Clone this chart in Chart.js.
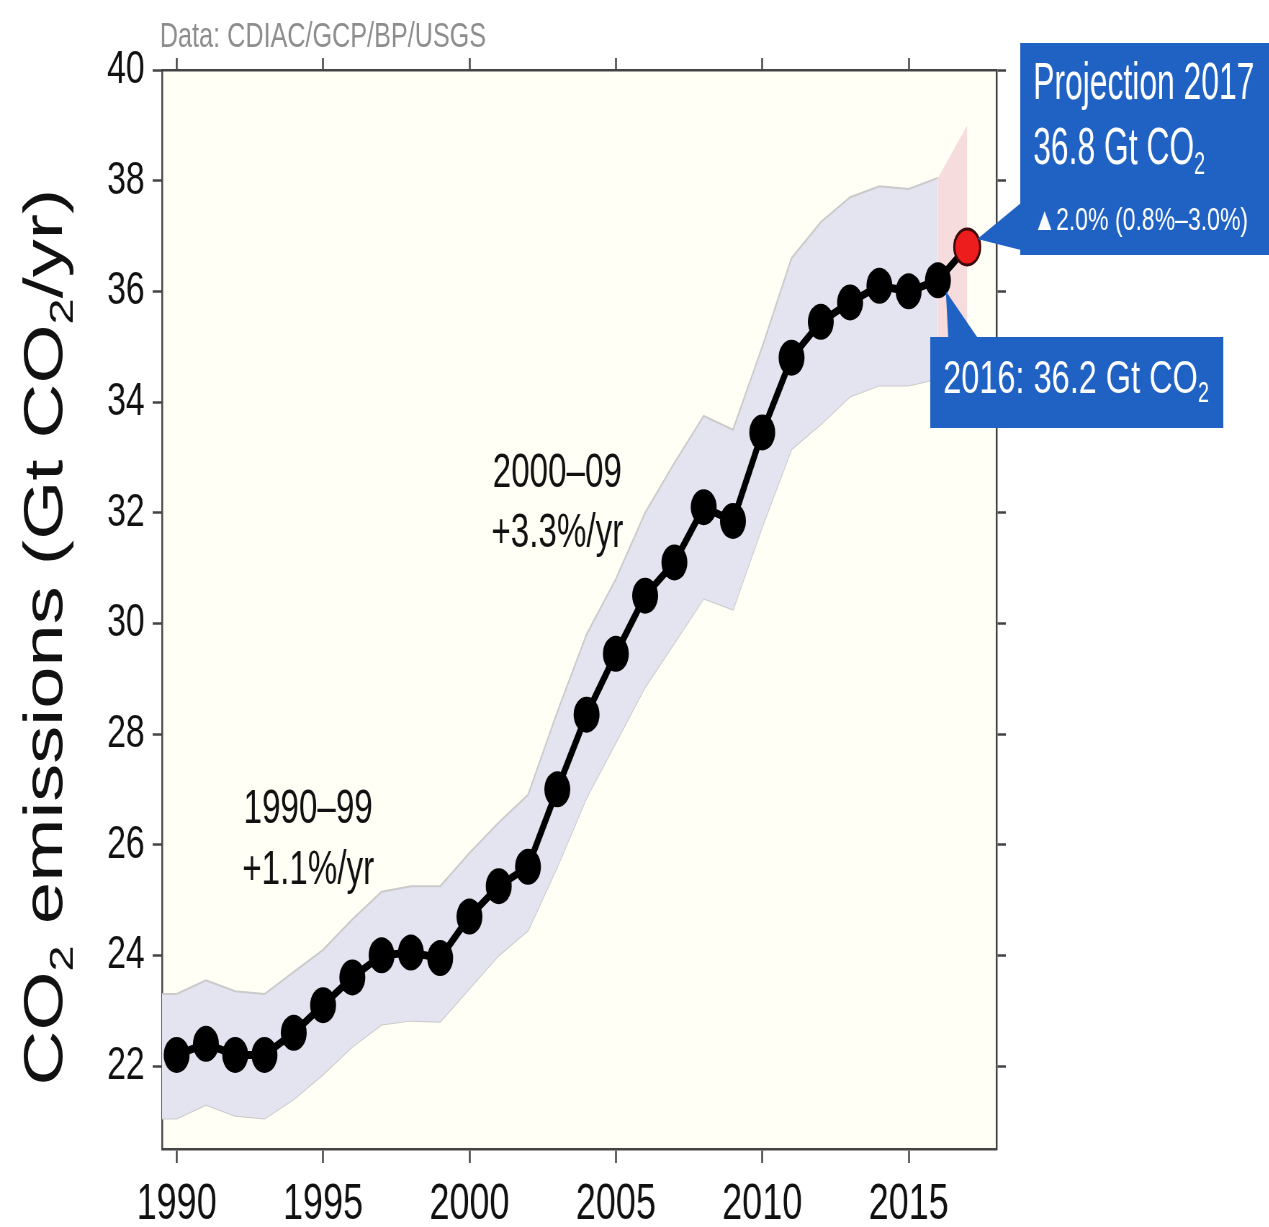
<!DOCTYPE html>
<html>
<head>
<meta charset="utf-8">
<title>CO2 emissions</title>
<script src="https://cdn.jsdelivr.net/npm/chart.js@4.4.1/dist/chart.umd.min.js"></script>
<style>
  html, body { margin: 0; padding: 0; background: #fff; overflow: hidden; }
  /* the reference is a horizontally squeezed figure, so the whole canvas is squeezed too */
  #wrap { width: 1763px; height: 1227px; transform: scaleX(0.72); transform-origin: 0 0; }
</style>
</head>
<body>
<div id="wrap"><canvas id="co2Chart" width="1763" height="1227"></canvas></div>
<script>
// fossil CO2 emissions, Gt CO2 per year (2017 = projection)
const years = [1990, 1991, 1992, 1993, 1994, 1995, 1996, 1997, 1998, 1999,
               2000, 2001, 2002, 2003, 2004, 2005, 2006, 2007, 2008, 2009,
               2010, 2011, 2012, 2013, 2014, 2015, 2016, 2017];
const emissions = [22.2, 22.4, 22.2, 22.2, 22.6, 23.1, 23.6, 24.0, 24.05, 23.95,
                   24.7, 25.25, 25.6, 27.0, 28.35, 29.45, 30.5, 31.1, 32.1, 31.85,
                   33.45, 34.8, 35.45, 35.8, 36.1, 36.0, 36.2, 36.8];

// uncertainty range of the historical data
const bandYears = [1989, 1990, 1991, 1992, 1993, 1994, 1995, 1996, 1997, 1998, 1999,
                   2000, 2001, 2002, 2003, 2004, 2005, 2006, 2007, 2008, 2009,
                   2010, 2011, 2012, 2013, 2014, 2015, 2016];
const bandUpper = [23.3, 23.3, 23.55, 23.35, 23.3, 23.7, 24.1, 24.65, 25.15, 25.25, 25.25,
                   25.85, 26.4, 26.9, 28.4, 29.8, 30.8, 32.0, 32.9, 33.75, 33.5,
                   35.0, 36.6, 37.25, 37.7, 37.9, 37.85, 38.05];
const bandLower = [21.05, 21.05, 21.3, 21.1, 21.05, 21.4, 21.85, 22.35, 22.75, 22.82, 22.8,
                   23.4, 24.0, 24.45, 25.6, 26.85, 27.85, 28.85, 29.65, 30.45, 30.25,
                   31.75, 33.15, 33.6, 34.1, 34.3, 34.3, 34.42];

// projection range 2016 -> 2017
const projYears = [2016, 2017];
const projUpper = [38.05, 39.0];
const projLower = [34.42, 34.7];

const xTicks = [1990, 1995, 2000, 2005, 2010, 2015];
const yTicks = [22, 24, 26, 28, 30, 32, 34, 36, 38, 40];

const FONT = '"Liberation Sans", Arial, Helvetica, sans-serif';
const AXIS = '#444';
const BOX_BLUE = '#2062c4';

Chart.defaults.font.family = FONT;

const toXY = (xs, ys) => xs.map((x, i) => ({ x: x, y: ys[i] }));

// text with optional subscript parts: [[text, isSub], ...]
function richText(ctx, parts, x, y, size, opts) {
    const narrow = opts.narrow || 1;
    const align = opts.align || 'left';
    const subSize = Math.round(size * 0.62);
    ctx.save();
    ctx.fillStyle = opts.color || '#111';
    ctx.textBaseline = 'alphabetic';
    ctx.textAlign = 'left';
    let total = 0;
    const widths = parts.map(([t, sub]) => {
        ctx.font = (sub ? subSize : size) + 'px ' + FONT;
        const w = ctx.measureText(t).width;
        total += w;
        return w;
    });
    ctx.translate(x, y);
    if (opts.rotate) ctx.rotate(opts.rotate);
    ctx.scale(narrow, 1);
    let cx = align === 'center' ? -total / 2 : (align === 'right' ? -total : 0);
    parts.forEach(([t, sub], i) => {
        ctx.font = (sub ? subSize : size) + 'px ' + FONT;
        ctx.fillText(t, cx, sub ? size * 0.2 : 0);
        cx += widths[i];
    });
    ctx.restore();
}

function callout(ctx, box, wedge) {
    ctx.save();
    ctx.fillStyle = BOX_BLUE;
    ctx.beginPath();
    ctx.moveTo(wedge[0][0], wedge[0][1]);
    ctx.lineTo(wedge[1][0], wedge[1][1]);
    ctx.lineTo(wedge[2][0], wedge[2][1]);
    ctx.closePath();
    ctx.fill();
    ctx.fillRect(box.x, box.y, box.w, box.h);
    ctx.restore();
}

const annotations = {
    id: 'annotations',
    beforeDraw(chart) {
        const { ctx, chartArea: a } = chart;
        ctx.save();
        ctx.fillStyle = '#fffff6';
        ctx.fillRect(a.left, a.top, a.right - a.left, a.bottom - a.top);
        ctx.restore();
    },
    afterDraw(chart) {
        const ctx = chart.ctx;
        const xs = chart.scales.x, ys = chart.scales.y;

        richText(ctx, [['Data: CDIAC/GCP/BP/USGS', 0]], 222, 47, 35, { color: '#8d8d8d' });

        richText(ctx, [['CO', 0], ['2', 1], [' emissions (Gt CO', 0], ['2', 1], ['/yr)', 0]],
                 86, 637, 76, { align: 'center', rotate: -Math.PI / 2, color: '#111' });

        richText(ctx, [['1990\u201399', 0]], 428, 823, 48, { align: 'center', narrow: 0.96 });
        richText(ctx, [['+1.1%/yr', 0]], 428, 884, 48, { align: 'center', narrow: 0.96 });
        richText(ctx, [['2000\u201309', 0]], 774, 487, 48, { align: 'center', narrow: 0.96 });
        richText(ctx, [['+3.3%/yr', 0]], 774, 547, 48, { align: 'center', narrow: 0.96 });

        // projection callout
        const p17x = xs.getPixelForValue(2017), p17y = ys.getPixelForValue(36.8);
        callout(ctx, { x: 1417, y: 43, w: 346, h: 212 },
                [[p17x + 14, p17y - 8], [1418, 203], [1418, 250]]);
        richText(ctx, [['Projection 2017', 0]], 1435, 99, 52, { color: '#fff', narrow: 0.85 });
        richText(ctx, [['36.8 Gt CO', 0], ['2', 1]], 1435, 164, 52, { color: '#fff', narrow: 0.85 });
        richText(ctx, [['\u25B22.0% (0.8%\u20133.0%)', 0]], 1435, 230, 32, { color: '#fff' });

        // 2016 callout
        const p16x = xs.getPixelForValue(2016), p16y = ys.getPixelForValue(36.2);
        callout(ctx, { x: 1292, y: 337, w: 407, h: 91 },
                [[p16x + 11, p16y + 11], [1317, 338], [1358, 338]]);
        richText(ctx, [['2016: 36.2 Gt CO', 0], ['2', 1]], 1310, 393, 47, { color: '#fff', narrow: 0.96 });
    }
};

const gridOpts = (len) => ({
    drawOnChartArea: false,
    drawTicks: true,
    tickLength: len,
    tickWidth: 2.5,
    tickColor: AXIS
});
const borderOpts = { display: true, color: AXIS, width: 2.5 };

const ctx = document.getElementById('co2Chart').getContext('2d');
new Chart(ctx, {
    type: 'line',
    data: {
        datasets: [
            {
                label: 'Emissions',
                data: toXY(years, emissions),
                borderColor: '#000',
                borderWidth: 8,
                tension: 0,
                fill: false,
                pointRadius: 18,
                pointBackgroundColor: years.map(y => y === 2017 ? '#ee1d1d' : '#000'),
                pointBorderColor: years.map(y => y === 2017 ? '#3b0a0a' : '#000'),
                pointBorderWidth: years.map(y => y === 2017 ? 3 : 0)
            },
            {
                label: 'Projection upper',
                data: toXY(projYears, projUpper),
                borderColor: 'rgba(0,0,0,0)',
                borderWidth: 0,
                pointRadius: 0,
                fill: '+1',
                backgroundColor: '#f6dcdc'
            },
            {
                label: 'Projection lower',
                data: toXY(projYears, projLower),
                borderColor: 'rgba(0,0,0,0)',
                borderWidth: 0,
                pointRadius: 0,
                fill: false
            },
            {
                label: 'Uncertainty upper',
                data: toXY(bandYears, bandUpper),
                borderColor: '#cacaca',
                borderWidth: 2,
                pointRadius: 0,
                tension: 0,
                fill: '+1',
                backgroundColor: '#e3e4ef'
            },
            {
                label: 'Uncertainty lower',
                data: toXY(bandYears, bandLower),
                borderColor: '#cacaca',
                borderWidth: 2,
                pointRadius: 0,
                tension: 0,
                fill: false
            }
        ]
    },
    options: {
        responsive: false,
        animation: false,
        events: [],
        layout: { padding: 0 },
        plugins: {
            legend: { display: false },
            tooltip: { enabled: false }
        },
        scales: {
            x: {
                type: 'linear',
                position: 'bottom',
                min: 1989.5,
                max: 2018,
                afterBuildTicks: s => { s.ticks = xTicks.map(v => ({ value: v })); },
                afterFit: s => { s.height = 78; },
                ticks: {
                    font: { size: 50 },
                    color: '#111',
                    padding: 12,
                    maxRotation: 0,
                    autoSkip: false,
                    callback: v => String(v)
                },
                grid: gridOpts(14),
                border: borderOpts
            },
            x2: {
                type: 'linear',
                position: 'top',
                min: 1989.5,
                max: 2018,
                afterBuildTicks: s => { s.ticks = xTicks.map(v => ({ value: v })); },
                afterFit: s => { s.height = 70; },
                ticks: { display: false },
                grid: gridOpts(12),
                border: borderOpts
            },
            y: {
                type: 'linear',
                position: 'left',
                min: 20.5,
                max: 40,
                afterBuildTicks: s => { s.ticks = yTicks.map(v => ({ value: v })); },
                afterFit: s => { s.width = 225; },
                ticks: {
                    font: { size: 47 },
                    color: '#111',
                    padding: 11,
                    callback: v => String(v)
                },
                grid: gridOpts(13),
                border: borderOpts
            },
            y2: {
                type: 'linear',
                position: 'right',
                min: 20.5,
                max: 40,
                afterBuildTicks: s => { s.ticks = yTicks.map(v => ({ value: v })); },
                afterFit: s => { s.width = 379; },
                ticks: { display: false },
                grid: gridOpts(13),
                border: borderOpts
            }
        }
    },
    plugins: [annotations]
});
</script>
</body>
</html>
